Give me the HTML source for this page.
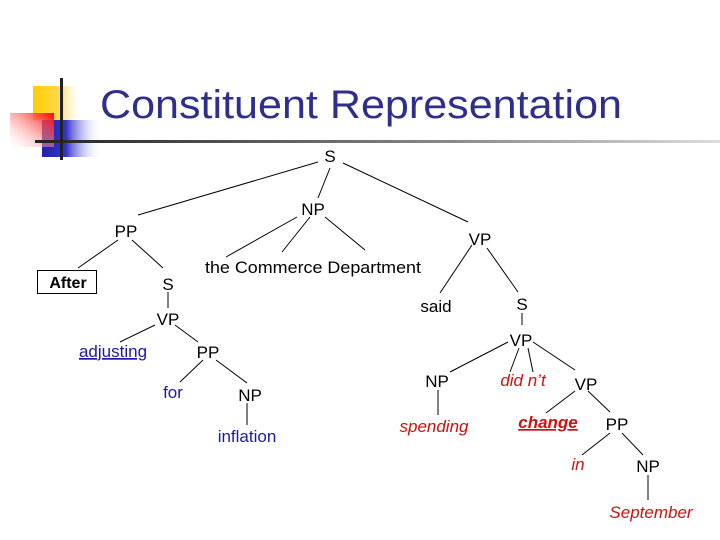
<!DOCTYPE html>
<html><head><meta charset="utf-8"><style>
html,body{margin:0;padding:0;background:#fff;width:720px;height:540px;overflow:hidden}
svg text{font-family:"Liberation Sans",Arial,sans-serif}
</style></head><body>
<svg width="720" height="540" viewBox="0 0 720 540" xmlns="http://www.w3.org/2000/svg">
<defs>
<linearGradient id="yl" x1="0" x2="1"><stop offset="0" stop-color="#ffcc00"/><stop offset="0.5" stop-color="#ffd84a"/><stop offset="1" stop-color="#fff" stop-opacity="0"/></linearGradient>
<linearGradient id="rd" x1="1" x2="0" y1="0" y2="1"><stop offset="0" stop-color="#ff0000"/><stop offset="1" stop-color="#fff" stop-opacity="0.2"/></linearGradient>
<linearGradient id="bl" x1="0" x2="1"><stop offset="0" stop-color="#2222aa"/><stop offset="0.4" stop-color="#3333cc"/><stop offset="1" stop-color="#fff" stop-opacity="0"/></linearGradient>
<linearGradient id="hl" x1="0" x2="1"><stop offset="0" stop-color="#222"/><stop offset="0.6" stop-color="#888"/><stop offset="1" stop-color="#ddd"/></linearGradient>
</defs>
<rect x="33" y="86" width="50" height="34" fill="url(#yl)"/>
<rect x="42" y="120" width="60" height="37" fill="url(#bl)"/>
<rect x="10" y="113" width="44" height="34" fill="url(#rd)"/>
<rect x="35" y="140" width="685" height="3" fill="url(#hl)"/>
<rect x="60" y="78" width="3" height="82" fill="#222"/>
<text x="100" y="118" font-size="40" fill="#2e2e8c" textLength="522" lengthAdjust="spacingAndGlyphs">Constituent Representation</text>
<g stroke="#000" stroke-width="1" fill="none">
<line x1="318" y1="162" x2="138" y2="215"/>
<line x1="330" y1="168" x2="318" y2="198"/>
<line x1="297" y1="217" x2="226" y2="257"/>
<line x1="310" y1="217" x2="282" y2="252"/>
<line x1="325" y1="217" x2="365" y2="250"/>
<line x1="343" y1="163" x2="468" y2="222"/>
<line x1="118" y1="240" x2="78" y2="268"/>
<line x1="132" y1="240" x2="163" y2="268"/>
<line x1="168" y1="292" x2="168" y2="308"/>
<line x1="155" y1="325" x2="120" y2="342"/>
<line x1="175" y1="325" x2="198" y2="342"/>
<line x1="203" y1="360" x2="180" y2="382"/>
<line x1="216" y1="360" x2="247" y2="383"/>
<line x1="247" y1="403" x2="247" y2="425"/>
<line x1="472" y1="245" x2="440" y2="293"/>
<line x1="487" y1="248" x2="518" y2="292"/>
<line x1="522" y1="313" x2="522" y2="325"/>
<line x1="508" y1="342" x2="450" y2="372"/>
<line x1="519" y1="348" x2="510" y2="372"/>
<line x1="528" y1="348" x2="533" y2="372"/>
<line x1="533" y1="342" x2="575" y2="370"/>
<line x1="575" y1="391" x2="546" y2="413"/>
<line x1="588" y1="391" x2="610" y2="412"/>
<line x1="610" y1="433" x2="582" y2="455"/>
<line x1="622" y1="433" x2="643" y2="455"/>
<line x1="648" y1="475" x2="648" y2="500"/>
<line x1="438" y1="390" x2="438" y2="415"/>
<rect x="37.5" y="270.5" width="59" height="23"/>
</g>
<g font-size="17" text-anchor="middle" fill="#000">
<text x="330" y="162">S</text>
<text x="313" y="215">NP</text>
<text x="126" y="237">PP</text>
<text x="480" y="245">VP</text>
<text x="313" y="273" textLength="216" lengthAdjust="spacingAndGlyphs">the Commerce Department</text>
<text x="68" y="288" font-weight="bold" font-size="16">After</text>
<text x="168" y="290">S</text>
<text x="436" y="312">said</text>
<text x="522" y="310">S</text>
<text x="168" y="325">VP</text>
<text x="521" y="346">VP</text>
<text x="208" y="358">PP</text>
<text x="250" y="401">NP</text>
<text x="437" y="387">NP</text>
<text x="586" y="390">VP</text>
<text x="617" y="430">PP</text>
<text x="648" y="472">NP</text>
</g>
<g font-size="17" text-anchor="middle" fill="#1a1aa6">
<text x="113" y="357" text-decoration="underline">adjusting</text>
<text x="173" y="398">for</text>
<text x="247" y="442">inflation</text>
</g>
<g font-size="17" text-anchor="middle" fill="#cc1111" font-style="italic">
<text x="523" y="386">did n’t</text>
<text x="434" y="432">spending</text>
<text x="548" y="428" font-weight="bold" text-decoration="underline">change</text>
<text x="578" y="470">in</text>
<text x="651" y="518">September</text>
</g>
</svg>
</body></html>
